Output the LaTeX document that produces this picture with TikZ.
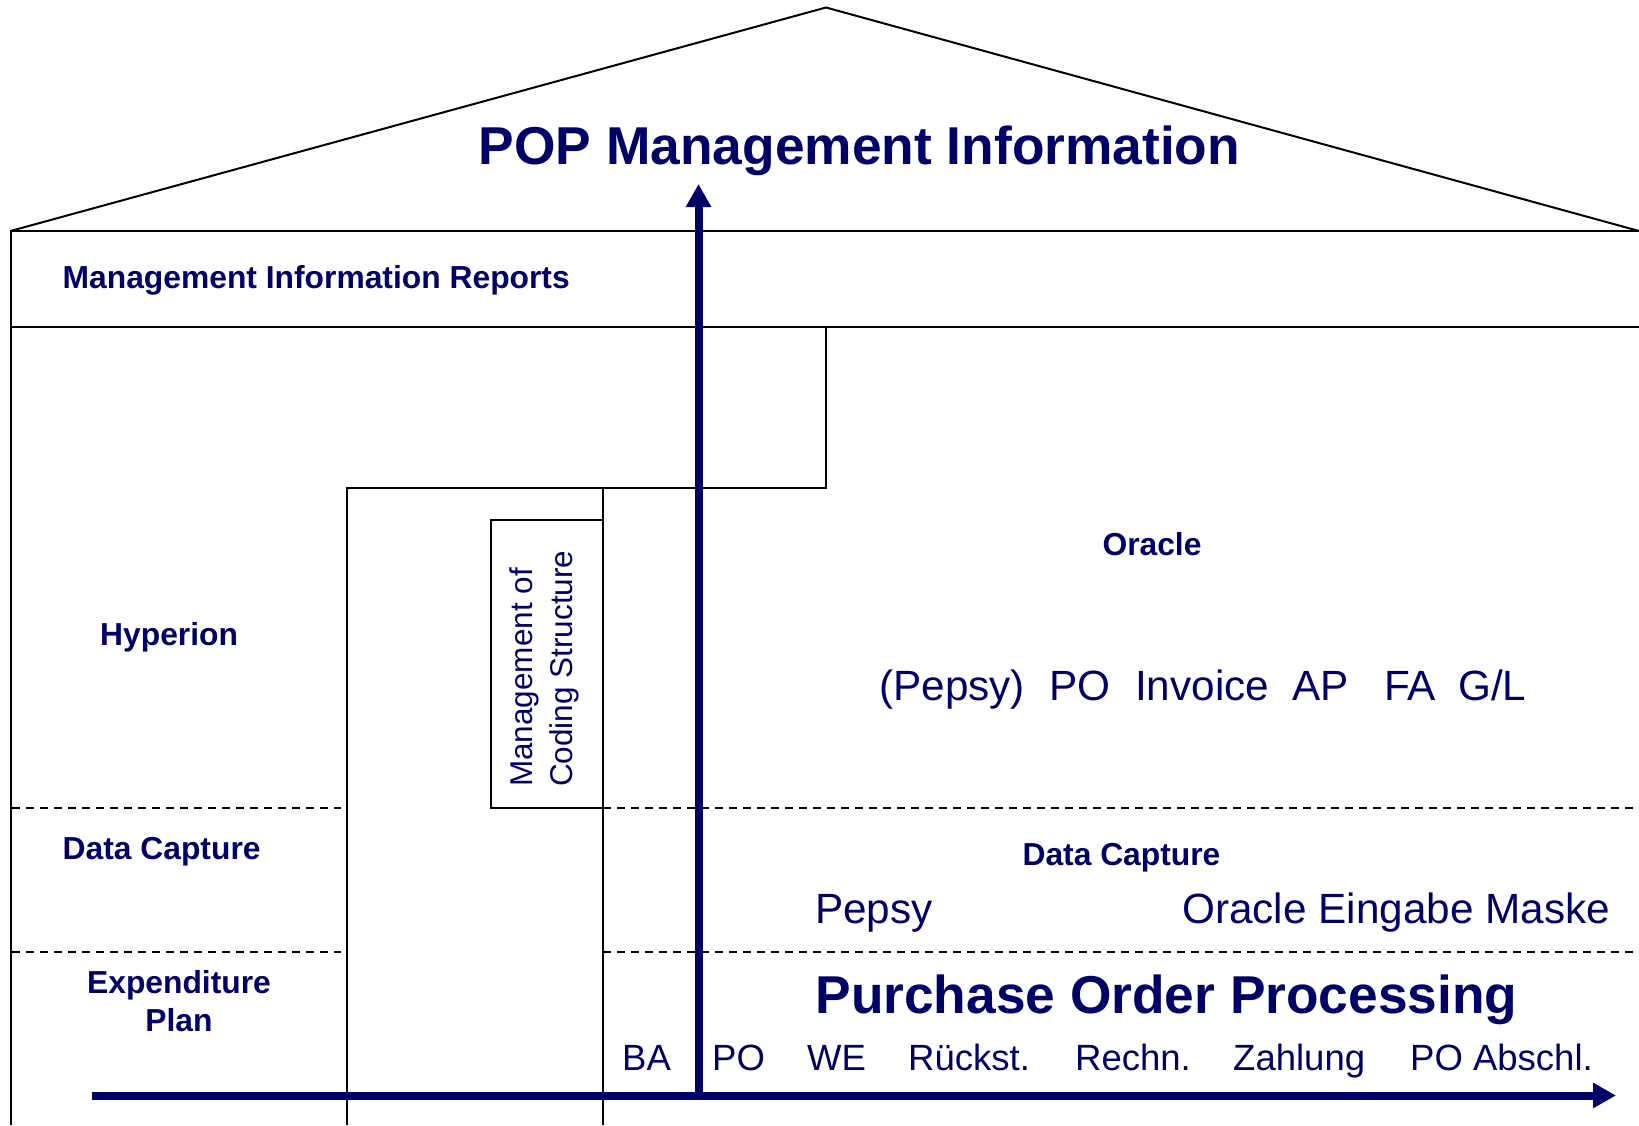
\documentclass[tikz,border=0pt]{standalone}
\usepackage{fontspec}
\setmainfont{Liberation Sans}
\usetikzlibrary{arrows.meta}
\definecolor{navy}{RGB}{0,0,102}
\tikzset{
  wall/.style={line width=2pt, black},
  sepline/.style={line width=1.5pt, black, dash pattern=on 8pt off 6pt},
  bigarrow/.style={line width=8pt, navy, -{Triangle[length=23pt,width=24pt]}},
  lblb/.style={navy, inner sep=0pt, font=\bfseries\fontsize{31.8}{37}\selectfont},
  lblbig/.style={navy, inner sep=0pt, font=\bfseries\fontsize{53.3}{60}\selectfont},
  lblr/.style={navy, inner sep=0pt, font=\fontsize{42.3}{48}\selectfont},
  lblstep/.style={navy, inner sep=0pt, font=\fontsize{36.5}{42}\selectfont},
  lblrot/.style={navy, inner sep=0pt, font=\fontsize{31.5}{38}\selectfont, rotate=90},
}
\begin{document}
\begin{tikzpicture}[x=1pt,y=-1pt]
\useasboundingbox[fill=white] (0,0) rectangle (1639,1125);
% house frame
\draw[wall] (10.5,231) -- (826,7.5) -- (1639,231);
\draw[wall] (10.5,1125) -- (10.5,231) -- (1639,231);
\draw[wall] (10.5,327) -- (1639,327);
\draw[wall] (826,327) -- (826,488) -- (347,488) -- (347,1125);
\draw[wall] (603,488) -- (603,1125);
\draw[wall] (491,808) rectangle (603,520);
% dashed separators
\draw[sepline] (12,808) -- (341,808);
\draw[sepline] (603,808) -- (1639,808);
\draw[sepline] (12,952) -- (341,952);
\draw[sepline] (603,952) -- (1639,952);
% texts
\node[lblbig, anchor=base] (title) at (859.5,164) {POP Management Information};
\node[lblb, anchor=base west] (mir) at (62.5,288) {Management Information Reports};
\node[lblb, anchor=base west] (hyp) at (100,645) {Hyperion};
\node[lblb, anchor=base] (orc) at (1152,555) {Oracle};
\node[lblr, anchor=base west] (o1) at (879,700) {(Pepsy)};
\node[lblr, anchor=base west] (o2) at (1049,700) {PO};
\node[lblr, anchor=base west] (o3) at (1135,700) {Invoice};
\node[lblr, anchor=base west] (o4) at (1292,700) {AP};
\node[lblr, anchor=base west] (o5) at (1384,700) {FA};
\node[lblr, anchor=base west] (o6) at (1458,700) {G/L};
\node[lblrot, anchor=base west] (mc1) at (532,787) {Management of};
\node[lblrot, anchor=base west] (mc2) at (572,787) {Coding Structure};
\node[lblb, anchor=base west] (dcl) at (62.5,859) {Data Capture};
\node[lblb, anchor=base] (dcr) at (1121.5,865) {Data Capture};
\node[lblr, anchor=base west] (pep) at (815,923) {Pepsy};
\node[lblr, anchor=base west] (oem) at (1182,923) {Oracle Eingabe Maske};
\node[lblb, anchor=base] (exp1) at (179,993) {Expenditure};
\node[lblb, anchor=base] (exp2) at (179,1031) {Plan};
\node[lblbig, anchor=base] (pop) at (1166.5,1013) {Purchase Order Processing};
\node[lblstep, anchor=base west] (s1) at (622,1070) {BA};
\node[lblstep, anchor=base west] (s2) at (712,1070) {PO};
\node[lblstep, anchor=base west] (s3) at (807,1070) {WE};
\node[lblstep, anchor=base west] (s4) at (908,1070) {Rückst.};
\node[lblstep, anchor=base west] (s5) at (1075,1070) {Rechn.};
\node[lblstep, anchor=base west] (s6) at (1233,1070) {Zahlung};
\node[lblstep, anchor=base west] (s7) at (1410,1070) {PO Abschl.};
% axes
\coordinate (hstart) at (92,1095.5);
\coordinate (hend) at (1616,1095.5);
\coordinate (vstart) at (698.5,1099.5);
\coordinate (vend) at (698.5,184);
\draw[bigarrow] (hstart) -- (hend);
\draw[bigarrow] (vstart) -- (vend);
\end{tikzpicture}
\end{document}
